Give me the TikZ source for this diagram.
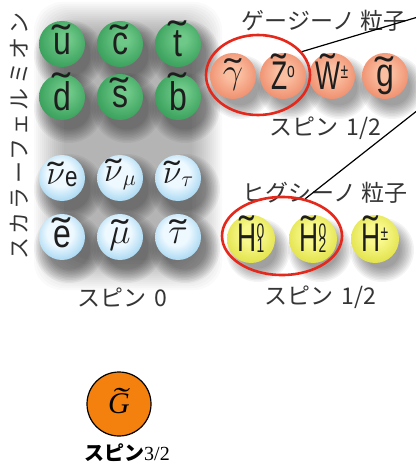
\RequirePackage{fix-cm}
\documentclass[tikz,border=0pt]{standalone}
\usepackage{fontspec}
\setmainfont{Liberation Sans}
\newfontfamily\jp{Noto Sans CJK JP}
\newfontfamily\jpsp{Noto Sans CJK JP}[LetterSpace=14]
\newfontfamily\serif{Liberation Serif}
\usetikzlibrary{shapes.geometric}

\definecolor{ink}{RGB}{30,30,30}
\definecolor{g1}{RGB}{110,200,135}
\definecolor{g2}{RGB}{28,138,68}
\definecolor{b1}{RGB}{238,249,255}
\definecolor{b2}{RGB}{88,178,228}
\definecolor{o1}{RGB}{250,190,160}
\definecolor{o2}{RGB}{230,105,70}
\definecolor{y1}{RGB}{248,248,140}
\definecolor{y2}{RGB}{208,208,20}
\definecolor{ring}{RGB}{229,40,28}
\definecolor{gravi}{RGB}{244,128,14}

\pgfdeclareradialshading{gsh}{\pgfpoint{4bp}{6bp}}{color(0bp)=(g1); color(6bp)=(g1); color(42bp)=(g2); color(62bp)=(g2!80!black)}
\pgfdeclareradialshading{bsh}{\pgfpoint{-3bp}{6bp}}{color(0bp)=(b1); color(14bp)=(b1); color(46bp)=(b2); color(62bp)=(b2!85!black)}
\pgfdeclareradialshading{osh}{\pgfpoint{0bp}{4bp}}{color(0bp)=(o1); color(8bp)=(o1); color(44bp)=(o2); color(62bp)=(o2!85!black)}
\pgfdeclareradialshading{ysh}{\pgfpoint{0bp}{6bp}}{color(0bp)=(y1); color(10bp)=(y1); color(44bp)=(y2); color(62bp)=(y2!85!black)}

% letter with a widened tilde set above it (optional raise for tall letters)
\newcommand\tl[3][1.7]{\ooalign{#3\cr\hidewidth\raisebox{#2}{\scalebox{#1}[1]{\char"02DC}}\hidewidth\cr}}
% narrow capitals and slightly narrow small letters inside the balls
\newcommand\cnd[1]{\scalebox{0.66}[1]{#1}}
\newcommand\lcn[1]{\scalebox{0.8}[1]{#1}}
\newcommand\sm[1]{{\fontsize{21}{21}\selectfont #1}}
% soft drop shadow under a ball
\newcommand\softshadow[3]{%
  \foreach \k in {0,...,9}{\fill[black,fill opacity=0.045] ({#1+7},{#2+11}) circle[radius={#3-1.5*\k}];}}

\tikzset{
  ballnode/.style={circle, inner sep=0pt, minimum size=46pt, text=ink,
    font=\fontsize{40}{40}\selectfont},
  gball/.style={ballnode, shading=gsh},
  bball/.style={ballnode, shading=bsh},
  oball/.style={ballnode, shading=osh},
  yball/.style={ballnode, shading=ysh, minimum size=48pt},
  title/.style={text=ink!90, font=\jp\fontsize{23}{26}\selectfont, inner sep=0pt},
  loop/.style={draw=ring, line width=2.6pt, ellipse, inner sep=0pt},
  pointer/.style={draw=black, line width=1.2pt},
}

\begin{document}
\begin{tikzpicture}[x=1pt, y=-1pt]
\useasboundingbox (0,0) rectangle (415,470);
\fill[white] (0,0) rectangle (415,470);

% grey haze behind the scalar fermions
\foreach \k in {0,...,15}{
  \fill[black, fill opacity=0.02, rounded corners=28pt]
    ({34+2*\k},{2+2*\k}) rectangle ({222-2*\k},{290-2*\k});}

% shadows
\foreach \x in {62,120,178}{
  \softshadow{\x}{44}{35}\softshadow{\x}{97}{35}
  \softshadow{\x}{178}{35}\softshadow{\x}{237}{35}}
\foreach \x in {233,283,332,385}{\softshadow{\x}{76}{32}}
\foreach \x in {251,313,375}{\softshadow{\x}{239}{32}}

% squarks
\node[gball] (su) at (62,44)  {\raisebox{1pt}{\lcn{\tl{1pt}{u}}}};
\node[gball] (sc) at (120,44) {\raisebox{1pt}{\lcn{\tl{1pt}{c}}}};
\node[gball] (st) at (178,44) {\raisebox{1pt}{\lcn{\tl{7pt}{t}}}};
\node[gball] (sd) at (62,97)  {\raisebox{1pt}{\lcn{\tl{9pt}{d}}}};
\node[gball] (ss) at (120,97) {\raisebox{1pt}{\lcn{\tl{1pt}{s}}}};
\node[gball] (sb) at (178,97) {\raisebox{1pt}{\lcn{\tl{9pt}{b}}}};

% sleptons
\node[bball] (sne) at (62,178)  {\raisebox{2pt}{{\fontsize{34}{34}\selectfont\tl[1.4]{-2pt}{$\nu$}}\lcn{\raisebox{-2pt}{\fontsize{28}{28}\selectfont e}}}};
\node[bball] (snm) at (120,178) {\raisebox{2pt}{{\fontsize{34}{34}\selectfont\tl[1.4]{-2pt}{$\nu$}}\raisebox{-4pt}{\fontsize{22}{22}\selectfont$\mu$}}};
\node[bball] (snt) at (178,178) {\raisebox{2pt}{{\fontsize{34}{34}\selectfont\tl[1.4]{-2pt}{$\nu$}}\raisebox{-3pt}{\fontsize{22}{22}\selectfont$\tau$}}};
\node[bball] (se) at (62,237)  {\raisebox{1pt}{\lcn{\tl{1pt}{e}}}};
\node[bball] (smu) at (120,237) {\raisebox{2pt}{{\fontsize{36}{36}\selectfont\tl[1.4]{-2pt}{$\mu$}}}};
\node[bball] (stau) at (178,237) {\raisebox{2pt}{{\fontsize{36}{36}\selectfont\tl[1.4]{-2pt}{$\tau$}}}};

% gauginos
\node[oball] (gph) at (233,76) {\raisebox{1pt}{{\fontsize{36}{36}\selectfont\tl[1.4]{-1pt}{$\gamma$}}}};
\node[oball] (gz)  at (283,76) {\raisebox{1pt}{\cnd{\tl{7pt}{Z}\raisebox{12pt}{\sm{o}}}}};
\node[oball] (gw)  at (332,76) {\raisebox{1pt}{\cnd{\tl{7pt}{W}\raisebox{11pt}{\sm{±}}}}};
\node[oball] (gg)  at (385,76) {\raisebox{1pt}{\lcn{\tl{1pt}{g}}}};

% higgsinos
\node[yball] (h1) at (251,239) {\raisebox{2pt}{\cnd{\tl{7pt}{H}\rlap{\raisebox{13pt}{\sm{0}}}\raisebox{-1pt}{\sm{1}}}}};
\node[yball] (h2) at (313,239) {\raisebox{2pt}{\cnd{\tl{7pt}{H}\rlap{\raisebox{13pt}{\sm{0}}}\raisebox{-1pt}{\sm{2}}}}};
\node[yball] (hc) at (375,239) {\raisebox{2pt}{\cnd{\tl{7pt}{H}\raisebox{11pt}{\sm{±}}}}};

% labels
\node[title, font=\jpsp\fontsize{22}{24}\selectfont, rotate=90] (sf) at (19,136) {スカラーフェルミオン};
\node[title] (s0) at (122,297) {スピン\hspace{0.35em}0};
\node[title] (gt) at (324,21) {ゲージーノ 粒子};
\node[title] (gs) at (325,128) {スピン\hspace{0.35em}1/2};
\node[title] (ht) at (325,193) {ヒグシーノ 粒子};
\node[title] (hs) at (320,297) {スピン\hspace{0.35em}1/2};

% rings round the neutral states
\node[loop, minimum width=104pt, minimum height=80pt] (gring) at (258,75) {};
\node[loop, minimum width=120pt, minimum height=78pt] (hring) at (282,236) {};

% pointers leaving the frame
\coordinate (gend) at (418,17);
\coordinate (hend) at (418,110);
\draw[pointer] (gring.28) -- (gend);
\draw[pointer] (hring.58) -- (hend);

% gravitino
\node[circle, draw=black, line width=1.2pt, fill=gravi, minimum size=64pt, inner sep=0pt,
  font=\serif\itshape\fontsize{30}{30}\selectfont] (grav) at (119,404) {\tl[1.6]{5pt}{G}};
\node[inner sep=0pt, text=black] (gravs) at (127,453)
  {{\jp\bfseries\fontsize{20}{22}\selectfont スピン}{\serif\fontsize{20}{22}\selectfont 3/2}};
\end{tikzpicture}
\end{document}
